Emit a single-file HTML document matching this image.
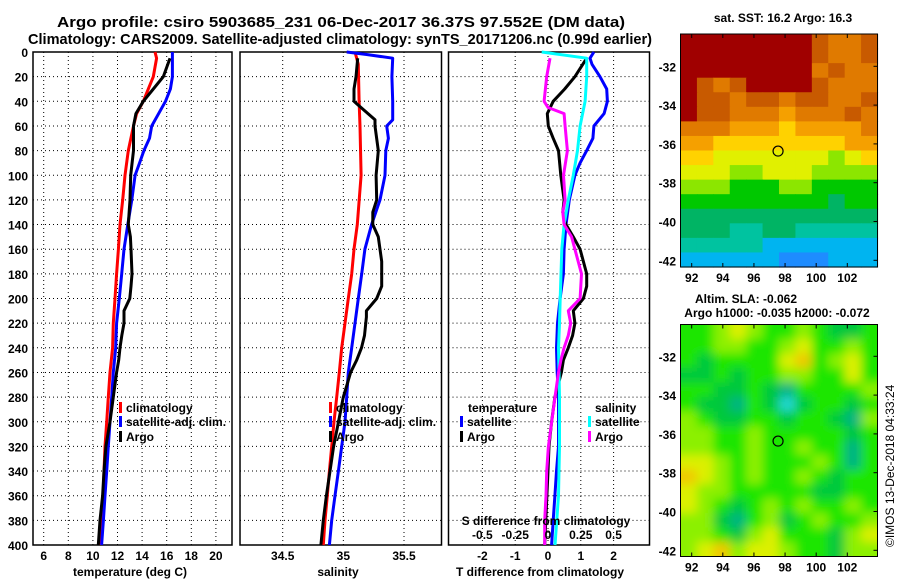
<!DOCTYPE html>
<html><head><meta charset="utf-8"><style>
html,body{margin:0;padding:0;background:#fff;}
svg{display:block;font-family:"Liberation Sans",Arial,sans-serif;font-weight:bold;}
</style></head><body>
<svg id="fig" width="900" height="580" viewBox="0 0 900 580" xmlns="http://www.w3.org/2000/svg">
<defs>
<filter id="blur" x="-10%" y="-10%" width="120%" height="120%"><feGaussianBlur stdDeviation="5"/></filter>
<clipPath id="clipSla"><rect x="680.5" y="324.5" width="197" height="232"/></clipPath>
</defs>
<text x="57" y="27" font-size="15" textLength="568" lengthAdjust="spacingAndGlyphs">Argo profile: csiro 5903685_231 06-Dec-2017 36.37S 97.552E (DM data)</text>
<text x="28" y="44" font-size="15" textLength="624" lengthAdjust="spacingAndGlyphs">Climatology: CARS2009. Satellite-adjusted climatology: synTS_20171206.nc (0.99d earlier)</text>
<g id="p1"></g>
<g id="p2"></g>
<g id="p3"></g>
<g id="m1"></g>
<g id="m2"></g>
<text x="783" y="22" font-size="12" text-anchor="middle">sat. SST: 16.2 Argo: 16.3</text>
<text x="746" y="303" font-size="12" text-anchor="middle">Altim. SLA: -0.062</text>
<text x="777" y="317" font-size="12" text-anchor="middle">Argo h1000: -0.035 h2000: -0.072</text>
<text x="0" y="0" font-size="12" font-weight="normal" transform="translate(894,547) rotate(-90)">©IMOS 13-Dec-2018 04:33:24</text>
</svg>
<script>
// ---------- data ----------
const tDepth   = [0,5,20,40,50,60,80,100,120,140,160,180,200,220,240,260,280,300,320,340,360,380,400];
const tClim    = [15.05,15.18,14.91,14.1,13.55,13.3,12.88,12.61,12.42,12.2,12.07,11.93,11.8,11.66,11.6,11.39,11.25,11.12,10.98,10.9,10.85,10.71,10.58];
const tSatDepth= [0,20,30,40,60,70,80,90,100,120,140,160,180,200,220,240,260,280,300,320,340,360,380,400];
const tSat     = [16.46,16.46,16.3,15.9,14.78,14.6,14.15,13.8,13.43,13.16,12.84,12.53,12.34,12.15,11.93,11.85,11.66,11.53,11.39,11.25,11.12,10.98,10.85,10.71];
const tArgoDepth=[5,20,30,40,50,60,80,100,120,140,150,160,180,190,200,210,220,230,240,250,260,280,300,320,340,360,380,400];
const tArgo    = [16.27,15.72,14.91,14.1,13.5,13.3,13.3,13.07,13.02,12.88,13.05,13.1,13.18,13.1,13.0,12.53,12.53,12.35,12.2,12.1,11.93,11.66,11.39,11.06,10.9,10.79,10.58,10.44];

const sDepth   = [0,10,40,60,100,140,160,180,200,220,240,260,280,300,320,340,360,380,400];
const sClim    = [35.096,35.123,35.13,35.137,35.146,35.115,35.088,35.069,35.041,35.014,34.986,34.967,34.945,34.923,34.904,34.885,34.868,34.849,34.835];
const sSatDepth= [0,2,5,20,40,55,60,70,80,100,120,140,160,180,200,220,240,260,280,300,320,340,360,380,400];
const sSat     = [35.028,35.192,35.407,35.40,35.407,35.407,35.357,35.371,35.35,35.343,35.302,35.233,35.178,35.151,35.123,35.096,35.069,35.041,35.028,35.014,34.986,34.959,34.931,34.904,34.885];
const sArgoDepth=[5,20,30,40,42,55,60,80,100,120,130,140,150,170,190,200,210,215,230,240,250,260,270,280,300,320,340,360,380,400];
const sArgo    = [35.118,35.104,35.088,35.088,35.11,35.261,35.261,35.288,35.27,35.275,35.243,35.243,35.288,35.316,35.316,35.275,35.19,35.19,35.174,35.15,35.11,35.06,35.03,35.0,34.96,34.92,34.89,34.86,34.835,34.815];

const dTSatDepth=[0,5,10,20,30,40,50,60,70,80,90,100,120,140,160,180,200,220,240,260,280,300,320,340,360,380,400];
const dTSat    = [1.40,1.28,1.34,1.585,1.79,1.81,1.71,1.40,1.37,1.18,0.98,0.82,0.65,0.55,0.49,0.47,0.37,0.29,0.26,0.28,0.32,0.32,0.32,0.26,0.21,0.16,0.11];
const dTArgoDepth=[5,20,30,40,50,60,70,80,100,120,130,140,150,160,180,190,200,210,220,230,240,250,260,280,300,320,340,400];
const dTArgo   = [1.18,0.82,0.51,0.16,-0.02,0.01,0.16,0.32,0.39,0.49,0.45,0.55,0.77,0.98,1.18,1.18,1.08,0.77,0.82,0.75,0.62,0.47,0.41,0.21,0.11,0.03,0.0,-0.10];
const dSSatDepth=[0,5,20,40,60,80,100,120,140,160,200,220,240,280,320,360,400];
const dSSat    = [-0.048,0.295,0.295,0.283,0.245,0.225,0.193,0.155,0.123,0.105,0.093,0.088,0.08,0.088,0.088,0.08,0.053];
const dSArgoDepth=[5,20,40,45,50,60,80,100,120,130,140,150,160,180,200,210,220,230,240,250,260,280,300,320,340,360,380,400];
const dSArgo   = [0.015,-0.01,-0.03,0.0,0.123,0.13,0.148,0.118,0.13,0.113,0.123,0.18,0.205,0.255,0.245,0.155,0.173,0.155,0.123,0.098,0.08,0.053,0.028,0.003,-0.01,-0.015,-0.025,-0.025];

const sstGrid = [
[11,11,11,11,11,11,11,11,10,9,9,10],
[11,11,11,11,11,11,11,11,10,9,9,10],
[11,11,11,11,11,11,11,11,9,10,9,9],
[11,10,9,10,11,11,11,11,10,9,9,9],
[11,10,10,9,10,10,9,10,10,9,9,10],
[11,10,10,9,9,9,8,9,9,9,10,9],
[9,9,9,8,8,8,7,8,8,8,8,9],
[8,8,7,7,7,7,7,7,7,7,8,8],
[7,7,6,6,6,6,6,6,6,5,6,7],
[6,6,6,5,5,6,6,6,5,5,5,5],
[5,5,5,4,4,4,5,5,4,4,4,4],
[4,4,4,4,4,4,4,4,4,3,4,4],
[3,3,3,3,3,3,3,3,3,3,3,3],
[3,3,3,2,2,3,3,2,2,2,2,2],
[2,2,2,2,2,1,1,1,1,1,1,1],
[1,1,1,1,1,1,0,0,0,1,1,1]];
const slaGrid = [
[3,3,4,5,4,3,3,4,3,2,2,3],
[3,3,4,4,3,3,4,5,3,3,4,3],
[3,2,3,3,3,3,5,6,3,4,5,3],
[2,2,3,2,3,3,4,4,3,3,5,3],
[3,3,2,2,3,2,1,3,3,3,3,4],
[3,2,2,1,3,2,0,2,3,3,2,3],
[4,3,2,2,3,3,2,3,3,2,1,4],
[4,4,3,3,4,3,3,3,3,3,2,3],
[4,4,3,3,4,3,3,4,3,3,1,3],
[5,5,4,3,4,3,3,3,4,3,1,3],
[6,5,4,3,4,3,3,4,3,2,3,3],
[5,4,4,3,3,3,3,3,2,2,3,3],
[5,4,3,2,3,4,3,4,3,3,4,3],
[4,4,2,1,3,4,2,3,4,3,3,4],
[4,4,3,2,4,5,3,3,3,2,4,5],
[4,5,6,4,5,5,4,3,3,2,4,4]];
const depthTicks = [0,20,40,60,80,100,120,140,160,180,200,220,240,260,280,300,320,340,360,380,400];
const tTicks = [6,8,10,12,14,16,18,20];
const sTicks = [34.5,35,35.5];
const sTickLabels = ["34.5","35","35.5"];
const dTTicks = [-2,-1,0,1,2];
const dSTicks = [-0.5,-0.25,0,0.25,0.5];
const dSTickLabels = ["-0.5","-0.25","0","0.25","0.5"];
const lonTicks = [92,94,96,98,100,102];
const latTicks = [-32,-34,-36,-38,-40,-42];
const argoLon = 97.55, argoLat = -36.37;

// ---------- helpers ----------
const NS="http://www.w3.org/2000/svg";
function mk(parent,tag,attrs){const e=document.createElementNS(NS,tag);for(const k in attrs)e.setAttribute(k,attrs[k]);parent.appendChild(e);return e;}
const Y0=52,Y1=545;
const yD = d => Y0 + d/400*(Y1-Y0);
const xT = t => 43.7 + (t-6)*12.3;
const xS = s => 282.7 + (s-34.5)*121.3;
const xDT = t => 548 + t*32.8;
const xDS = s => 548 + s*4*32.8;

function panel(g,x0,x1,vgrid,fn,hLabels){
  for(const d of depthTicks){
    const l=mk(g,'line',{x1:x0,x2:x1,y1:yD(d),y2:yD(d),stroke:'#000','stroke-width':1,'stroke-dasharray':'1,3'});
    
    
    if(hLabels){
      const t=mk(g,'text',{x:28,y:yD(d)+5,'font-size':12,'text-anchor':'end'});t.textContent=d;
      
      
    }
  }
  for(const v of vgrid){
    const l=mk(g,'line',{x1:fn(v),x2:fn(v),y1:Y0,y2:Y1,stroke:'#000','stroke-width':1,'stroke-dasharray':'1,3'});
    
    
  }
  const r=mk(g,'rect',{x:x0,y:Y0,width:x1-x0,height:Y1-Y0,fill:'none',stroke:'#000','stroke-width':1.5});
  
  
}
function line(g,xs,ds,fn,col,name){
  const pts=xs.map((v,i)=>fn(v).toFixed(1)+','+yD(ds[i]).toFixed(1)).join(' ');
  const p=mk(g,'polyline',{points:pts,fill:'none',stroke:col,'stroke-width':3,'stroke-linejoin':'round'});
  
  
}
function txt(g,x,y,s,size,anchor,name){
  const t=mk(g,'text',{x:x,y:y,'font-size':size,'text-anchor':anchor||'start'});t.textContent=s;
  
  
  return t;
}
function legend(g,x,y,col,label){
  const r=mk(g,'rect',{x:x,y:y-10,width:3,height:11,fill:col});
  
  
  txt(g,x+7,y,label,12,'start','legend-entry');
}

// ---------- panel 1 ----------
const p1=document.getElementById('p1');
panel(p1,33,232,tTicks,xT,true);
line(p1,tClim,tDepth,xT,'#ff0000','temp-climatology-line');
line(p1,tSat,tSatDepth,xT,'#0000ff','temp-satellite-line');
line(p1,tArgo,tArgoDepth,xT,'#000000','temp-argo-line');
tTicks.forEach(t=>txt(p1,xT(t),560,t,12,'middle','x-tick-label'));
txt(p1,130,576,'temperature (deg C)',12,'middle','x-axis-title');
legend(p1,119,412,'#ff0000','climatology');
legend(p1,119,426,'#0000ff','satellite-adj. clim.');
legend(p1,119,441,'#000000','Argo');

// ---------- panel 2 ----------
const p2=document.getElementById('p2');
panel(p2,240,441.5,sTicks,xS,false);
line(p2,sClim,sDepth,xS,'#ff0000','sal-climatology-line');
line(p2,sSat,sSatDepth,xS,'#0000ff','sal-satellite-line');
line(p2,sArgo,sArgoDepth,xS,'#000000','sal-argo-line');
sTicks.forEach((s,i)=>txt(p2,xS(s),560,sTickLabels[i],12,'middle','x-tick-label'));
txt(p2,338,576,'salinity',12,'middle','x-axis-title');
legend(p2,329,412,'#ff0000','climatology');
legend(p2,329,426,'#0000ff','satellite-adj. clim.');
legend(p2,329,441,'#000000','Argo');

// ---------- panel 3 ----------
const p3=document.getElementById('p3');
panel(p3,448.5,649.5,dTTicks,xDT,false);
line(p3,dTSat,dTSatDepth,xDT,'#0000ff','tdiff-satellite-line');
line(p3,dTArgo,dTArgoDepth,xDT,'#000000','tdiff-argo-line');
line(p3,dSSat,dSSatDepth,xDS,'#00ffff','sdiff-satellite-line');
line(p3,dSArgo,dSArgoDepth,xDS,'#ff00ff','sdiff-argo-line');
dTTicks.forEach(t=>txt(p3,xDT(t),560,t,12,'middle','x-tick-label'));
txt(p3,540,576,'T difference from climatology',12,'middle','x-axis-title');
txt(p3,546,525,'S difference from climatology',12,'middle','s-axis-title');
dSTicks.forEach((s,i)=>txt(p3,xDS(s),539,dSTickLabels[i],12,'middle','s-tick-label'));
txt(p3,468,412,'temperature',12,'start','legend-title');
legend(p3,460,426,'#0000ff','satellite');
legend(p3,460,441,'#000000','Argo');
txt(p3,595,412,'salinity',12,'start','legend-title');
legend(p3,588,426,'#00ffff','satellite');
legend(p3,588,441,'#ff00ff','Argo');

// ---------- maps ----------
const sstPal=['#1e8cff','#00b4f0','#00c3a0','#00b464','#00c800','#8ce600','#e1f000','#ffd200','#f5a000','#e07a00','#c85a00','#a00000'];
const slaPal=['#20d8d0','#00b482','#00c83c','#1ee600','#8cf000','#dcf000','#f0c800'];
const lonX = lon => 691.7 + (lon-92)*15.56;
function map(g,grid,pal,top,bottom,latY,name,smooth){
  const L=680.5,R=877.5,rows=grid.length,cols=grid[0].length;
  const cw=(R-L)/cols, ch=(bottom-top)/rows;
  let cg=g;
  if(smooth){
    const outer=mk(g,'g',{'clip-path':'url(#clipSla)'});
    cg=mk(outer,'g',{filter:'url(#blur)'});
  }
  grid.forEach((row,i)=>row.forEach((v,j)=>{
    const ex = smooth ? 12 : 0;
    const x = L+j*cw - (j===0?ex:0), y = top+i*ch - (i===0?ex:0);
    const w = cw+0.6 + (j===0?ex:0) + (j===cols-1?ex:0);
    const h = ch+0.6 + (i===0?ex:0) + (i===rows-1?ex:0);
    const c=mk(cg,'rect',{x:x.toFixed(2),y:y.toFixed(2),width:w.toFixed(2),height:h.toFixed(2),fill:pal[v]});
    
    
  }));
  const fr=mk(g,'rect',{x:L,y:top,width:R-L,height:bottom-top,fill:'none',stroke:'#000','stroke-width':1});
  
  
  lonTicks.forEach(lon=>{
    mk(g,'line',{x1:lonX(lon),x2:lonX(lon),y1:bottom,y2:bottom-4,stroke:'#000'});
    mk(g,'line',{x1:lonX(lon),x2:lonX(lon),y1:top,y2:top+4,stroke:'#000'});
    txt(g,lonX(lon),bottom+15,lon,12,'middle','lon-tick-label');
  });
  latTicks.forEach(lat=>{
    mk(g,'line',{x1:R,x2:R-4,y1:latY(lat),y2:latY(lat),stroke:'#000'});
    txt(g,676,latY(lat)+5,lat,12,'end','lat-tick-label');
  });
  const c=mk(g,'circle',{cx:lonX(argoLon),cy:latY(argoLat),r:5,fill:'none',stroke:'#000','stroke-width':1.2});
  
  
}
map(document.getElementById('m1'),sstGrid,sstPal,34,267,lat=>66.3+(-32-lat)*19.4,'sst',false);
map(document.getElementById('m2'),slaGrid,slaPal,324.5,556.5,lat=>356.3+(-32-lat)*19.4,'sla',true);
</script>
</body></html>
